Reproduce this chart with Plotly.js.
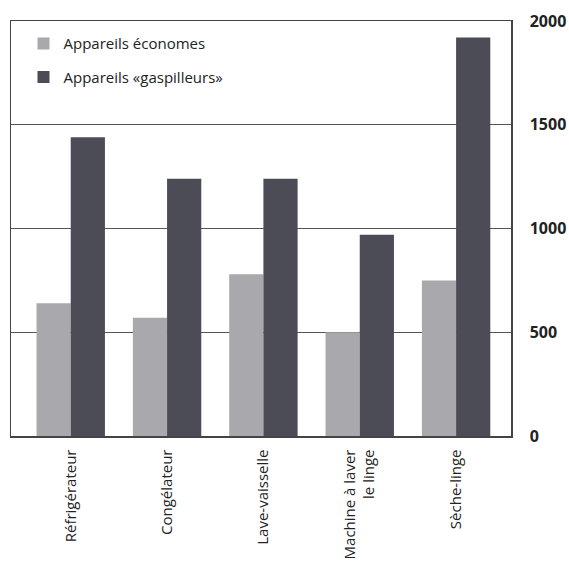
<!DOCTYPE html>
<html>
<head>
<meta charset="utf-8">
<script src="https://cdn.plot.ly/plotly-3.0.1.min.js"></script>
<style>html,body{margin:0;padding:0;background:#fff;}#chart{width:569px;height:561px;}</style>
</head>
<body>
<div id="chart"></div>
<script>
const categories = ["Réfrigérateur", "Congélateur", "Lave-vaisselle", "Machine à laver<br>le linge", "Sèche-linge"];
const economes = [640, 570, 780, 500, 750];
const gaspilleurs = [1440, 1240, 1240, 970, 1920];
const seriesNames = ["Appareils économes", "Appareils «gaspilleurs»"];
const yTicks = [0, 500, 1000, 1500, 2000];

const FONT = "Open Sans, Noto Sans, sans-serif";

const traces = [
  {type: "bar", x: categories, y: economes, name: seriesNames[0], legendgroup: "a",
   marker: {color: "#a8a8ad", line: {width: 0}}},
  {type: "bar", x: categories, y: gaspilleurs, name: seriesNames[1], legendgroup: "b",
   marker: {color: "#4b4c56", line: {width: 0}}}
];

const layout = {
  width: 569, height: 561,
  margin: {l: 11, r: 58, t: 21, b: 125},
  paper_bgcolor: "#fff", plot_bgcolor: "#fff",
  barmode: "group", bargap: 0.29, bargroupgap: 0,
  showlegend: true,
  legend: {x: 0.025, y: 0.985, xanchor: "left", yanchor: "top",
    font: {family: FONT, size: 15, color: "#222"},
    bgcolor: "rgba(0,0,0,0)", traceorder: "grouped", tracegroupgap: 11},
  xaxis: {
    type: "category", range: [-0.62, 4.57],
    tickangle: -90, tickfont: {family: FONT, size: 15, color: "#222"},
    ticks: "", showgrid: false, zeroline: false,
    showline: true, linecolor: "#444", linewidth: 1.5, mirror: true,
    ticklabelstandoff: 6, fixedrange: true
  },
  yaxis: {
    side: "right", range: [0, 2000], tickvals: yTicks,
    ticktext: yTicks.map(String),
    tickfont: {family: FONT, size: 16, color: "#222", weight: "bold"},
    ticks: "", showgrid: true, gridcolor: "#555", gridwidth: 1.3,
    zeroline: false, showline: true, linecolor: "#444", linewidth: 1.5, mirror: true,
    ticklabelstandoff: 14, fixedrange: true
  }
};

Plotly.newPlot("chart", traces, layout, {displayModeBar: false, staticPlot: true});
</script>
</body>
</html>
